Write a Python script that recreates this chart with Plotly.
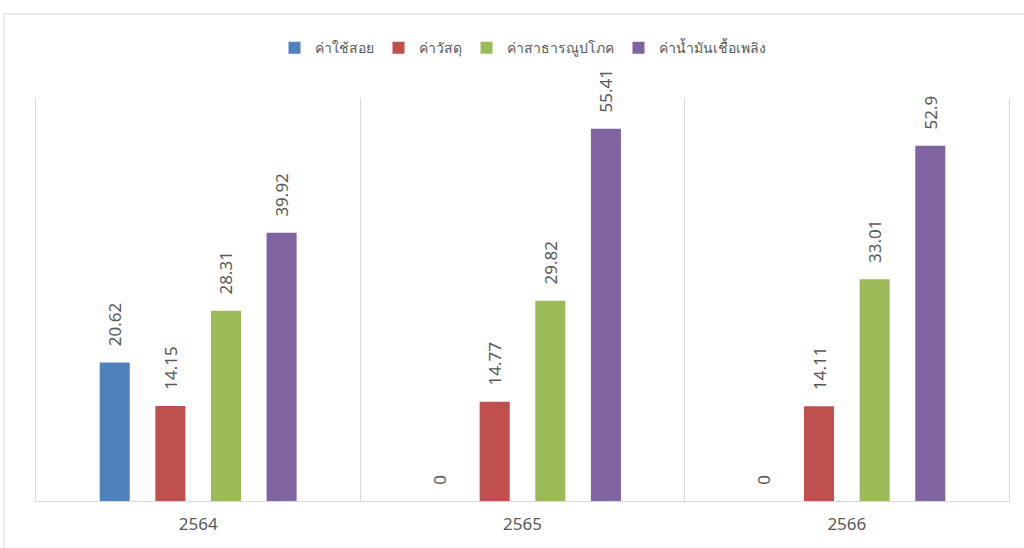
import plotly.graph_objects as go

years = ["2564", "2565", "2566"]
series_names = ["ค่าใช้สอย", "ค่าวัสดุ", "ค่าสาธารณูปโภค", "ค่าน้ำมันเชื้อเพลิง"]
v_supplies_use = [20.62, 0, 0]
v_materials = [14.15, 14.77, 14.11]
v_utilities = [28.31, 29.82, 33.01]
v_fuel = [39.92, 55.41, 52.9]
colors = ["#4F81BD", "#C0504D", "#9BBB59", "#8064A2"]

values = [v_supplies_use, v_materials, v_utilities, v_fuel]

fig = go.Figure()
for name, vals, col in zip(series_names, values, colors):
    fig.add_trace(go.Bar(
        x=years, y=vals, name=name,
        marker=dict(color=col, line=dict(width=0)),
        text=[f"{v:g}" for v in vals],
        texttemplate="\u00a0\u00a0\u00a0%{text}",
        textposition="outside",
        textangle=-90,
        constraintext="none",
        textfont=dict(size=17, color="#595959"),
        cliponaxis=False,
    ))

fig.update_layout(
    width=1024, height=548,
    margin=dict(l=36, r=15, t=98, b=47),
    paper_bgcolor="white", plot_bgcolor="white",
    barmode="group", bargap=0.314, bargroupgap=0.46,
    font=dict(family="Noto Sans, DejaVu Sans, sans-serif", color="#595959"),
    showlegend=True,
    legend=dict(orientation="h", x=0.5, xanchor="center", y=1.124, yanchor="middle",
                font=dict(size=14, color="#595959"), itemsizing="constant",
                traceorder="normal"),
    xaxis=dict(type="category", tickson="boundaries", showgrid=True, gridcolor="#D9D9D9",
               gridwidth=1, ticks="", showline=True, linecolor="#D9D9D9", linewidth=1,
               tickfont=dict(size=17, color="#595959"), range=[-0.5, 2.5],
               ticklabelstandoff=8),
    yaxis=dict(range=[0, 60], showgrid=False, zeroline=False, showticklabels=False,
               showline=True, mirror=True, linecolor="#D9D9D9", linewidth=1),
    shapes=[dict(type="rect", xref="paper", yref="paper", x0=-0.0329, x1=1.2,
                 y0=-0.3, y1=1.2084, line=dict(color="#D9D9D9", width=1),
                 fillcolor="rgba(0,0,0,0)", layer="below")],
)

fig.write_html("out.html", config={"displayModeBar": False},
               post_script="document.body.style.margin='0';")
